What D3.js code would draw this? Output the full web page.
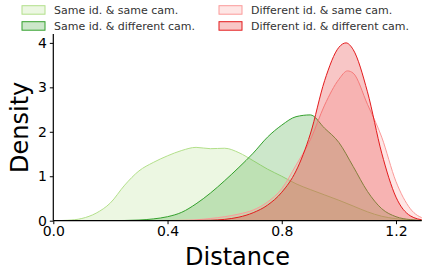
<!DOCTYPE html>
<html><head><meta charset="utf-8">
<script src="https://cdn.jsdelivr.net/npm/d3@7/dist/d3.min.js"></script>
<style>body{margin:0;background:#fff}svg{display:block;font-family:"DejaVu Sans",sans-serif}</style>
</head><body><svg id="c" width="422" height="268"></svg>
<script>
const seriesNames = ["Same id. & same cam.", "Same id. & different cam.", "Different id. & same cam.", "Different id. & different cam."];
const seriesColors = ["#b2df8a", "#33a02c", "#fb9a99", "#e31a1c"];
const xTicks = [0.0, 0.4, 0.8, 1.2];
const yTicks = [0, 1, 2, 3, 4];

const sameIdSameCamX = [0,0.05,0.1,0.15,0.2,0.25,0.3,0.35,0.4,0.45,0.5,0.55,0.6,0.65,0.7,0.75,0.8,0.85,0.9,0.95,1.0,1.05,1.1,1.15,1.2,1.25,1.3];
const sameIdSameCamY = [0,0.01,0.05,0.17,0.40,0.80,1.12,1.31,1.46,1.58,1.65,1.62,1.63,1.53,1.35,1.16,1.0,0.83,0.70,0.58,0.46,0.33,0.20,0.10,0.045,0.015,0.005];

const sameIdDiffCamX = [0.15,0.2,0.25,0.3,0.35,0.4,0.45,0.5,0.55,0.6,0.65,0.7,0.75,0.8,0.85,0.9,0.95,1.0,1.05,1.1,1.15,1.2,1.25,1.3];
const sameIdDiffCamY = [0,0.002,0.005,0.015,0.04,0.09,0.19,0.38,0.62,0.90,1.20,1.52,1.88,2.15,2.34,2.38,2.08,1.76,1.22,0.66,0.27,0.09,0.025,0.005];

const diffIdSameCamX = [0.35,0.4,0.45,0.5,0.55,0.6,0.65,0.7,0.75,0.8,0.85,0.9,0.95,1.0,1.03,1.05,1.1,1.15,1.2,1.25,1.3];
const diffIdSameCamY = [0,0.003,0.01,0.02,0.05,0.09,0.15,0.24,0.42,0.72,1.25,1.82,2.6,3.18,3.37,3.32,2.62,1.88,0.88,0.27,0.04];

const diffIdDiffCamX = [0.45,0.5,0.55,0.6,0.65,0.7,0.75,0.8,0.85,0.9,0.95,1.0,1.025,1.05,1.1,1.15,1.2,1.25,1.3];
const diffIdDiffCamY = [0,0.005,0.01,0.03,0.08,0.18,0.35,0.64,1.12,1.95,3.15,3.9,4.0,3.85,2.9,1.52,0.53,0.11,0.01];

const allX = [sameIdSameCamX, sameIdDiffCamX, diffIdSameCamX, diffIdDiffCamX];
const allY = [sameIdSameCamY, sameIdDiffCamY, diffIdSameCamY, diffIdDiffCamY];

const svg = d3.select("#c");
const L = 53.3, R = 421.7, T = 34, B = 220.7;
const x = d3.scaleLinear().domain([0, 1.29]).range([L, R]);
const y = d3.scaleLinear().domain([0, 4.2]).range([B, T]);

svg.append("defs").append("clipPath").attr("id","clip").append("rect")
  .attr("x", L).attr("y", T - 5).attr("width", R - L).attr("height", B - T + 5);

const g = svg.append("g").attr("clip-path","url(#clip)");
allX.forEach((xs, i) => {
  const pts = xs.map((v, j) => [v, allY[i][j]]);
  const area = d3.area().x(d => x(d[0])).y0(y(0)).y1(d => y(d[1])).curve(d3.curveMonotoneX);
  const line = d3.line().x(d => x(d[0])).y(d => y(d[1])).curve(d3.curveMonotoneX);
  g.append("path").attr("d", area(pts)).attr("fill", seriesColors[i]).attr("fill-opacity", 0.25);
  g.append("path").attr("d", line(pts)).attr("fill", "none").attr("stroke", seriesColors[i]).attr("stroke-width", 1);
});

const xAxis = svg.append("g").attr("transform", `translate(0,${B})`)
  .call(d3.axisBottom(x).tickValues(xTicks).tickFormat(d3.format(".1f")).tickSize(3.5).tickPadding(2));
const yAxis = svg.append("g").attr("transform", `translate(${L},0)`)
  .call(d3.axisLeft(y).tickValues(yTicks).tickFormat(d3.format("d")).tickSize(3.5).tickPadding(3));
[xAxis, yAxis].forEach(a => {
  a.select(".domain").attr("stroke", "#000").attr("stroke-width", 1.2);
  a.selectAll(".tick line").attr("stroke", "#000").attr("stroke-width", 1);
  a.selectAll("text").attr("font-size", 14).attr("fill", "#000").attr("font-family", "DejaVu Sans");
});
xAxis.select(".domain").attr("d", `M${L},0H${R}`);
yAxis.select(".domain").attr("d", `M0,${B}V${T}`);

svg.append("text").attr("x", (L + R) / 2).attr("y", 265).attr("text-anchor", "middle")
  .attr("font-size", 24).text("Distance");
svg.append("text").attr("transform", `translate(28,${(T + B) / 2}) rotate(-90)`).attr("text-anchor", "middle")
  .attr("font-size", 24).text("Density");

const legPos = [[22, 5.7], [22, 21.7], [219, 5.7], [219, 21.7]];
seriesNames.forEach((n, i) => {
  const [lx, ly] = legPos[i];
  svg.append("rect").attr("x", lx).attr("y", ly).attr("width", 23).attr("height", 8.5)
    .attr("fill", seriesColors[i]).attr("fill-opacity", 0.25).attr("stroke", seriesColors[i]).attr("stroke-width", 1);
  svg.append("text").attr("x", lx + 32).attr("y", ly + 8.2).attr("font-size", 11).attr("fill", "#333").text(n);
});
</script></body></html>
